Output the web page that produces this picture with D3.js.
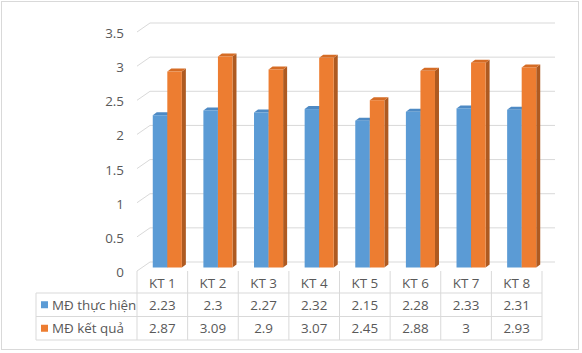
<!DOCTYPE html>
<html>
<head>
<meta charset="utf-8">
<script src="https://cdn.jsdelivr.net/npm/d3@7"></script>
<style>
  body { margin: 0; background: #fff; }
  text { font-family: "Open Sans", sans-serif; fill: #595959; }
</style>
</head>
<body>
<div id="chart"></div>
<script>
// Chart data
const categories = ["KT 1", "KT 2", "KT 3", "KT 4", "KT 5", "KT 6", "KT 7", "KT 8"];
const seriesNames = ["MĐ thực hiện", "MĐ kết quả"];
const thucHien = [2.23, 2.3, 2.27, 2.32, 2.15, 2.28, 2.33, 2.31];
const ketQua = [2.87, 3.09, 2.9, 3.07, 2.45, 2.88, 3, 2.93];
const yTicks = [0, 0.5, 1, 1.5, 2, 2.5, 3, 3.5];

const seriesValues = [thucHien, ketQua];
const colors = [
    { front: "#5b9bd5", top: "#4e8ac4", side: "#41719c" },
    { front: "#ed7d31", top: "#d56c25", side: "#ae5a21" }
];

const width = 582, height = 353;
const grid = "#d9d9d9";
const fontSize = "13.4px";

// 3d floor: front edge and depth offset
const front = { left: 137, right: 542, y: 271 };
const depth = { dx: 13, dy: 9 };
const barDepth = { dx: 4, dy: 3 };
const barShift = { dx: 5, dy: 3.5 };

const svg = d3.select("#chart").append("svg")
    .attr("width", width)
    .attr("height", height);

// Outer border
svg.append("rect")
    .attr("x", 1.5).attr("y", 1.5)
    .attr("width", 577).attr("height", 348)
    .attr("fill", "none").attr("stroke", grid);

// Back wall scale
const yScale = d3.scaleLinear()
    .domain([0, 3.5])
    .range([front.y - depth.dy, 23]);

const xScale = d3.scaleBand()
    .domain(categories)
    .range([front.left, front.right]);

const xSub = d3.scaleBand()
    .domain(seriesNames)
    .range([0, xScale.bandwidth()])
    .paddingOuter(0.74);

// Gridlines with the diagonal side wall part
const gridG = svg.append("g");
yTicks.forEach(t => {
    const y = yScale(t);
    gridG.append("path")
        .attr("d", `M${front.left},${y + depth.dy}L${front.left + depth.dx},${y}L${front.right + depth.dx},${y}`)
        .attr("fill", "none")
        .attr("stroke", grid);
    gridG.append("text")
        .attr("x", 124)
        .attr("y", y + 10)
        .attr("text-anchor", "end")
        .attr("dominant-baseline", "central")
        .style("font-size", fontSize)
        .text(t);
});

// Bars (front, top, side)
const barsG = svg.append("g");
const base = yScale(0) + depth.dy - barShift.dy;
seriesValues.forEach((vals, s) => {
    vals.forEach((v, i) => {
        const x = xScale(categories[i]) + barShift.dx + xSub(seriesNames[s]);
        const w = xSub.bandwidth();
        const y = yScale(v) + depth.dy - barShift.dy;
        const g = barsG.append("g");
        g.append("path")
            .attr("d", `M${x + w},${y}L${x + w + barDepth.dx},${y - barDepth.dy}L${x + w + barDepth.dx},${base - barDepth.dy}L${x + w},${base}Z`)
            .attr("fill", colors[s].side);
        g.append("path")
            .attr("d", `M${x},${y}L${x + barDepth.dx},${y - barDepth.dy}L${x + w + barDepth.dx},${y - barDepth.dy}L${x + w},${y}Z`)
            .attr("fill", colors[s].top);
        g.append("rect")
            .attr("x", x).attr("y", y)
            .attr("width", w).attr("height", base - y)
            .attr("fill", colors[s].front);
    });
});

// Data table
const table = { left: 36, headerBottom: 293, rowH: 23.5 };
const tableG = svg.append("g");
const rowLines = [table.headerBottom, table.headerBottom + table.rowH, table.headerBottom + 2 * table.rowH];

rowLines.forEach(y => {
    tableG.append("line")
        .attr("x1", table.left).attr("x2", front.right)
        .attr("y1", y).attr("y2", y)
        .attr("stroke", grid);
});
tableG.append("line")
    .attr("x1", table.left).attr("x2", table.left)
    .attr("y1", table.headerBottom).attr("y2", rowLines[2])
    .attr("stroke", grid);

categories.concat([null]).forEach(c => {
    const x = c ? xScale(c) : front.right;
    tableG.append("line")
        .attr("x1", x).attr("x2", x)
        .attr("y1", front.y).attr("y2", rowLines[2])
        .attr("stroke", grid);
});

categories.forEach(c => {
    tableG.append("text")
        .attr("x", xScale(c) + xScale.bandwidth() / 2)
        .attr("y", (front.y + table.headerBottom) / 2 + 1)
        .attr("text-anchor", "middle")
        .attr("dominant-baseline", "central")
        .style("font-size", fontSize)
        .text(c);
});

seriesValues.forEach((vals, s) => {
    const yMid = rowLines[s] + table.rowH / 2;
    tableG.append("rect")
        .attr("x", 41).attr("y", yMid - 3.5)
        .attr("width", 7).attr("height", 7)
        .attr("fill", colors[s].front);
    tableG.append("text")
        .attr("x", 52)
        .attr("y", yMid)
        .attr("dominant-baseline", "central")
        .style("font-size", fontSize)
        .text(seriesNames[s]);
    vals.forEach((v, i) => {
        tableG.append("text")
            .attr("x", xScale(categories[i]) + xScale.bandwidth() / 2)
            .attr("y", yMid)
            .attr("text-anchor", "middle")
            .attr("dominant-baseline", "central")
            .style("font-size", fontSize)
            .text(v);
    });
});
</script>
</body>
</html>
